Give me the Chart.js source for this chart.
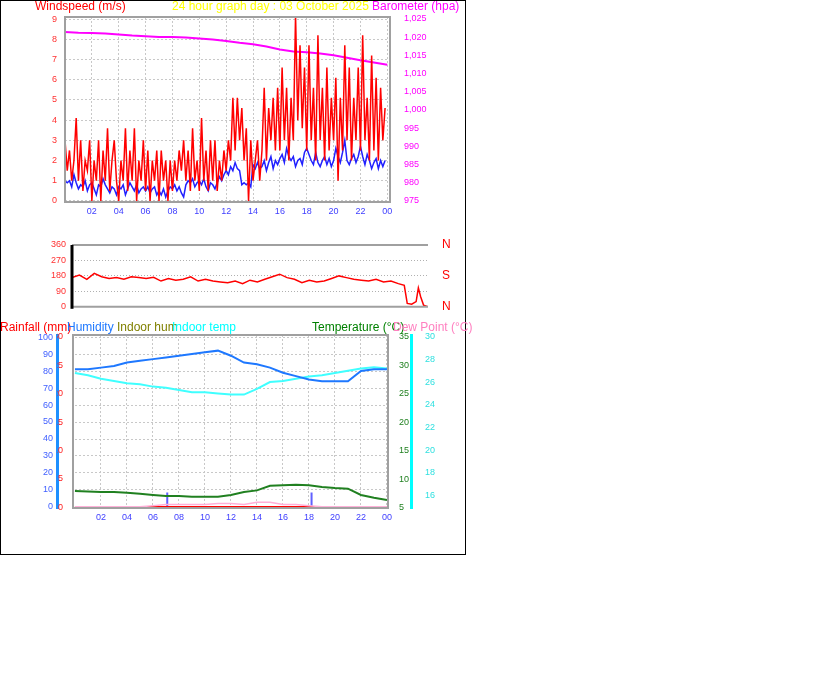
<!DOCTYPE html>
<html><head><meta charset="utf-8">
<script src="https://cdn.jsdelivr.net/npm/chart.js@4/dist/chart.umd.min.js"></script>
<style>
body{margin:0;background:#fff;font-family:"Liberation Sans",Arial,sans-serif;}
#box{position:absolute;left:0;top:0;width:464px;height:553px;border:1px solid #000;}
canvas{position:absolute;left:0;}
.t{position:absolute;font-size:12px;white-space:nowrap;line-height:12px;}
</style></head><body>
<div id="box"></div>
<canvas id="c1" width="466" height="230" style="top:0"></canvas>
<canvas id="c2" width="466" height="90" style="top:230px"></canvas>
<canvas id="c3" width="466" height="240" style="top:315px"></canvas>
<div class="t" style="left:35px;top:0;color:#f00">Windspeed (m/s)</div>
<div class="t" style="left:172px;top:0;color:#ffff00">24 hour graph day : 03 October 2025</div>
<div class="t" style="left:372px;top:0;color:#f0f">Barometer (hpa)</div>
<div class="t" style="left:0;top:321px;color:#f00">Rainfall (mm)</div>
<div class="t" style="left:67px;top:321px;color:#1e78ff">Humidity</div>
<div class="t" style="left:117px;top:321px;color:#808000">Indoor hum</div>
<div class="t" style="left:172px;top:321px;color:#00ffff">Indoor temp</div>
<div class="t" style="left:312px;top:321px;color:#008000">Temperature (°C)</div>
<div class="t" style="left:393px;top:321px;color:#ff80c0">Dew Point (°C)</div>
<script>
const gust=[3,1.5,2.5,1,2,4.1, 1,3,0.5,2,1.5,3, 0,2,1,3,0,2.5, 1,3.6,0.5,2,3,1, 0,2,1,3.6,0.5,2.5, 1,3.6,0,2,1,3,
0.5,2.5,0,2,1,2.5, 0,2.5,1,2,0,2, 0.5,2,1,2.5,1.5,3, 1,2.5,0.5,3.6,1,2, 0.5,4.1,1,2.5,0.5,3, 1,3,0.5,2,1,2.5,
1.5,3,2,5.1,2.5,5.1, 3,4.6,2,3.6,0,3, 1,2,3,1,2.5,5.6, 2,4.6,3,5.1,2.5,5.6, 2.5,6.6,3,5.6,2,5.1, 3,9.2,4,7.7,3.6,6.6,
2.5,7.7,3,5.6,2,8.2, 3,5.6,2,6.6,2.5,5.1, 3,6.1,1,5.1,2.5,7.7, 3,6.6,2,5.1,3,6.6, 2.5,8.2,3,5.1,2,7.2, 2.5,6.1,2,5.6,3,4.6];
const avgWind=[1,0.9,1.0,0.7,1.3,0.9, 0.6,0.8,0.7,1.0,0.5,0.8, 0.9,0.6,0.3,0.8,0.7,1.1, 0.8,0.6,0.4,0.7,0.6,0.3, 0.7,0.6,0.8,0.3,0.6,0.9, 0.7,0.5,0.8,0.4,0.6,0.7,
0.5,0.7,0.4,0.6,0.7,0.3, 0.5,0.3,0.6,0.2,0.5,0.7, 0.6,0.8,0.5,0.7,0.4,0.2, 0.8,1.0,0.9,1.1,0.7,0.9, 1.0,0.8,1.1,0.7,0.5,0.9, 0.8,0.6,0.9,1.2,1.0,1.3,
1.5,1.3,1.7,1.5,1.9,1.6, 1.5,0.8,0.9,0.8,0.9,0.7, 1.8,1.6,1.9,1.6,1.7,2.0, 1.5,1.9,2.2,1.6,2.0,1.8, 2.1,2.3,1.9,2.6,2.2,2.0, 2.2,1.7,2.0,2.1,1.8,2.4,
2.6,2.3,2.0,1.8,2.4,1.9, 1.7,2.0,2.2,1.8,2.1,1.7, 2.0,2.6,2.2,1.9,2.4,3.0, 2.0,1.8,2.1,2.3,1.9,2.2, 2.7,2.2,1.8,2.3,2.0,1.6, 1.9,2.1,1.6,2.0,1.7,2.0];
const hourly=[0,1,2,3,4,5,6,7,8,9,10,11,12,13,14,15,16,17,18,19,20,21,22,23,24];
const baro=[1021.4,1021.2,1021.1,1021.0,1020.7,1020.4,1020.2,1020.0,1020.0,1019.9,1019.6,1019.3,1018.9,1018.4,1018.0,1017.4,1016.6,1016.0,1015.8,1015.5,1015.0,1014.3,1013.6,1013.0,1012.4];
const dirHours=[0,0.5,1,1.5,2,2.5,3,3.5,4,4.5,5,5.5,6,6.5,7,7.5,8,8.5,9,9.5,10,10.5,11,11.5,12,12.5,13,13.5,14,14.5,15,15.5,16,16.5,17,17.5,18,18.5,19,19.5,20,20.5,21,21.5,22,22.4,22.6,22.9,23.2,23.35,23.5,23.7,24];
const dirVals=[170,185,160,195,175,165,170,160,175,170,165,172,150,165,155,160,175,150,160,150,145,140,150,135,155,145,160,175,190,170,160,140,155,145,150,165,180,170,160,155,150,160,145,150,135,125,20,15,30,110,60,10,0];
const humidity=[81,81,82,83,85,86,87,88,89,90,91,92,89,85,84,82,79,77,75,74,74,74,80,81,81];
const indoorTemp=[26.8,26.6,26.3,26.1,25.9,25.8,25.6,25.5,25.3,25.1,25.1,25.0,24.9,24.9,25.4,26.0,26.1,26.3,26.5,26.6,26.8,27.0,27.2,27.3,27.2];
const temperature=[7.9,7.8,7.7,7.7,7.6,7.4,7.2,7.0,7.0,6.9,6.9,6.9,7.2,7.7,8.0,8.8,8.9,9.0,8.9,8.6,8.4,8.3,7.2,6.7,6.3];
const dewPoint=[15.0,15.0,15.0,15.0,15.0,15.0,15.1,15.2,15.2,15.2,15.2,15.3,15.3,15.2,15.4,15.4,15.2,15.2,15.1,15.0,15.0,15.0,15.0,15.0,15.0];
const rain=[0,0,0,0,0,0,0,0,0,0,0,0,0,0,0,0,0,0,0,0,0,0,0,0,0];
const spikeHours=[7.1,18.2];
const spikeVal=8.5;

const F={family:'"Liberation Sans",Arial,sans-serif',size:9};
const pts=(xs,ys)=>ys.map((y,i)=>({x:xs[i],y}));
const idxHours=gust.map((_,i)=>i/6);
const fixed=a=>s=>{s.ticks=a.map(v=>({value:v}));};
const frame={id:'frame',afterDraw(c){const a=c.chartArea,x=c.ctx;x.save();x.strokeStyle='#a0a0a0';x.lineWidth=2;x.strokeRect(a.left,a.top,a.right-a.left,a.bottom-a.top);x.restore();}};
const hourTick=v=>(v>0&&v%2===0)?String(v%24).padStart(2,'0'):'';
const grid={color:'#c8c8c8',drawTicks:false};
const bdash={dash:[2,2],display:false};
const base={responsive:false,animation:false,plugins:{legend:{display:false},tooltip:{enabled:false}},elements:{point:{radius:0}}};

new Chart(c1,{type:'line',data:{datasets:[
 {data:pts(idxHours,gust),borderColor:'#ff0000',borderWidth:1.5,yAxisID:'y'},
 {data:pts(idxHours,avgWind),borderColor:'#2020ff',borderWidth:1.5,yAxisID:'y'},
 {data:pts(hourly,baro),borderColor:'#ff00ff',borderWidth:2,yAxisID:'y2'}]},
 options:{...base,layout:{padding:{top:17}},scales:{
  x:{type:'linear',min:0,max:24.2,afterFit:s=>{s.height=28},afterBuildTicks:fixed([2,4,6,8,10,12,14,16,18,20,22,24]),ticks:{color:'#4040ff',font:F,callback:hourTick,maxRotation:0,padding:4},grid,border:bdash},
  y:{position:'left',min:-0.05,max:9.1,afterFit:s=>{s.width=65},afterBuildTicks:fixed([0,1,2,3,4,5,6,7,8,9]),ticks:{color:'#ff3030',font:F,padding:8},grid,border:bdash},
  y2:{position:'right',min:974.7,max:1025.5,afterFit:s=>{s.width=76},afterBuildTicks:fixed([975,980,985,990,995,1000,1005,1010,1015,1020,1025]),ticks:{color:'#ff00ff',font:F,padding:6},grid:{display:false},border:{display:false}}}},
 plugins:[frame]});

new Chart(c2,{type:'line',data:{datasets:[{data:pts(dirHours,dirVals),borderColor:'#ff0000',borderWidth:1.5,yAxisID:'y'}]},
 options:{...base,layout:{padding:{top:15,bottom:7}},scales:{
  x:{type:'linear',min:0,max:24,display:false},
  y:{position:'left',min:0,max:360,afterFit:s=>{s.width=72},afterBuildTicks:fixed([0,90,180,270,360]),ticks:{color:'#ff3030',font:F,padding:6},grid:{color:'#b0b0b0',drawTicks:false},border:{display:false,dash:[1,2]}},
  y2:{position:'right',min:0,max:360,afterFit:s=>{s.width=38},afterBuildTicks:fixed([0,90,180,270,360]),ticks:{color:'#ff0000',font:{family:F.family,size:12},padding:6,callback:v=>({0:'N',90:'E',180:'S',270:'W',360:'N'})[v]},grid:{display:false},border:{display:false}}}},
 plugins:[{id:'f2',afterDraw(c){const a=c.chartArea,x=c.ctx;x.save();x.strokeStyle='#a0a0a0';x.lineWidth=2;x.beginPath();x.moveTo(a.left,a.top);x.lineTo(a.right,a.top);x.moveTo(a.left,a.bottom);x.lineTo(a.right,a.bottom);x.stroke();x.strokeStyle='#000';x.lineWidth=3;x.beginPath();x.moveTo(a.left,a.top);x.lineTo(a.left,a.bottom+2);x.stroke();x.restore();}}]});

const spikes=[];spikeHours.forEach(h=>{spikes.push({x:h,y:0},{x:h,y:spikeVal},{x:h,y:null});});
new Chart(c3,{type:'line',data:{datasets:[
 {data:pts(hourly,humidity),borderColor:'#1e78ff',borderWidth:2,yAxisID:'yh'},
 {data:pts(hourly,indoorTemp),borderColor:'#40ffff',borderWidth:2,yAxisID:'yd'},
 {data:pts(hourly,temperature),borderColor:'#208020',borderWidth:2,yAxisID:'yt'},
 {data:pts(hourly,dewPoint),borderColor:'#ffb0d8',borderWidth:1.5,yAxisID:'yd'},
 {data:pts(hourly,rain),borderColor:'#ff0000',borderWidth:3,yAxisID:'yr'},
 {data:spikes,borderColor:'#6060ff',borderWidth:2,yAxisID:'yh',spanGaps:false}]},
 options:{...base,layout:{padding:{top:20}},scales:{
  x:{type:'linear',min:-0.15,max:24.08,afterFit:s=>{s.height=47},afterBuildTicks:fixed([2,4,6,8,10,12,14,16,18,20,22,24]),ticks:{color:'#4040ff',font:F,callback:hourTick,maxRotation:0,padding:4},grid,border:bdash},
  yh:{position:'left',weight:1,min:-0.6,max:101.2,afterFit:s=>{s.width=57},afterBuildTicks:fixed([0,10,20,30,40,50,60,70,80,90,100]),ticks:{color:'#4060ff',font:F,padding:4},grid,border:{color:'#1e90ff',width:3,dash:[2,2]}},
  yr:{position:'left',weight:0,min:-0.1,max:30.3,afterFit:s=>{s.width=16},afterBuildTicks:fixed([0,5,10,15,20,25,30]),ticks:{color:'#ff2020',font:F,padding:2},grid:{display:false},border:{display:false}},
  yt:{position:'right',weight:0,min:4.9,max:35.35,afterFit:s=>{s.width=23},afterBuildTicks:fixed([5,10,15,20,25,30,35]),ticks:{color:'#208020',font:F,padding:3},grid:{display:false},border:{display:false}},
  yd:{position:'right',weight:1,min:14.9,max:30.15,afterFit:s=>{s.width=55},afterBuildTicks:fixed([16,18,20,22,24,26,28,30]),ticks:{color:'#30e0e0',font:F,padding:6},grid:{display:false},border:{color:'#00ffff',width:3}}}},
 plugins:[frame]});
</script></body></html>
